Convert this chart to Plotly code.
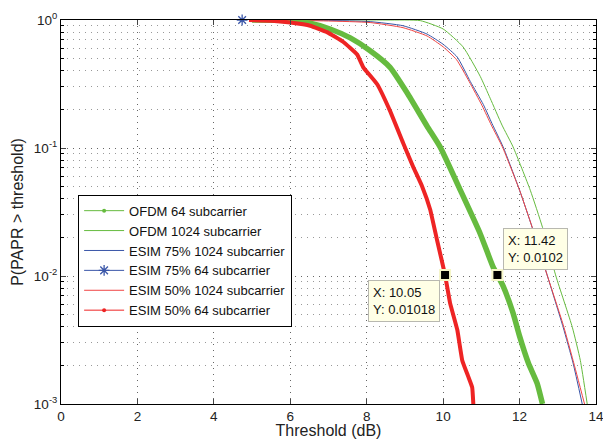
import math
import plotly.graph_objects as go

# CCDF of PAPR: threshold (dB) vs P(PAPR > threshold)
ofdm64_x = [5.0, 5.6, 6.0, 6.52, 7.04, 7.57, 8.09, 8.61, 9.06, 9.58, 9.92, 10.45, 10.97, 11.31, 11.42, 11.57, 11.83, 12.0, 12.23, 12.46, 12.6]
ofdm64_y = [1.0, 0.995, 0.989, 0.944, 0.851, 0.724, 0.575, 0.427, 0.269, 0.148, 0.102, 0.0468, 0.0214, 0.0117, 0.0102, 0.00832, 0.00513, 0.00339, 0.00209, 0.00145, 0.001]

ofdm1024_x = [6.0, 8.53, 9.4, 10.0, 10.52, 10.97, 11.23, 11.54, 11.83, 12.28, 12.6, 12.95, 13.38, 13.59, 13.77]
ofdm1024_y = [1.0, 1.0, 0.989, 0.851, 0.617, 0.363, 0.245, 0.151, 0.102, 0.0468, 0.024, 0.01, 0.00398, 0.00219, 0.001]

esim75_1024_x = [6.0, 7.0, 8.09, 8.95, 9.58, 10.0, 10.37, 10.71, 11.05, 11.28, 11.57, 12.0, 12.33, 12.72, 13.14, 13.4, 13.64]
esim75_1024_y = [1.0, 0.993, 0.971, 0.902, 0.776, 0.646, 0.513, 0.331, 0.219, 0.155, 0.102, 0.0468, 0.024, 0.0102, 0.00398, 0.00209, 0.001]

esim75_64_x = [4.74]
esim75_64_y = [1.0]

esim50_1024_x = [6.0, 7.0, 8.09, 8.95, 9.58, 10.0, 10.35, 10.68, 11.02, 11.26, 11.55, 12.0, 12.33, 12.72, 13.14, 13.4, 13.7]
esim50_1024_y = [0.995, 0.982, 0.955, 0.871, 0.750, 0.617, 0.490, 0.331, 0.214, 0.151, 0.102, 0.0468, 0.024, 0.0102, 0.00417, 0.00219, 0.001]

esim50_64_x = [4.92, 5.5, 6.0, 6.52, 6.96, 7.38, 7.75, 7.91, 8.27, 8.61, 8.95, 9.22, 9.45, 9.66, 9.84, 10.05, 10.18, 10.37, 10.5, 10.65, 10.76, 10.79]
esim50_64_y = [1.0, 0.9886, 0.955, 0.902, 0.804, 0.676, 0.537, 0.427, 0.316, 0.195, 0.110, 0.0708, 0.0501, 0.0331, 0.0191, 0.01018, 0.00617, 0.0038, 0.00219, 0.00166, 0.00135, 0.001]

tip_x = [10.05, 11.42]
tip_y = [0.01018, 0.0102]
tip_text = ["X: 10.05<br>Y: 0.01018", "X: 11.42<br>Y: 0.0102"]

x_ticks = [0, 2, 4, 6, 8, 10, 12, 14]
y_ticks = [1, 0.1, 0.01, 0.001]
y_ticktext = ["10<sup>0</sup>", "10<sup>-1</sup>", "10<sup>-2</sup>", "10<sup>-3</sup>"]
y_minor = [m * 10.0 ** e for e in (-3, -2, -1) for m in range(2, 10)]

GREEN = "#66bb3f"
BLUE = "#3a56a8"
RED = "#ee2424"
RED_LIGHT = "#f04444"
FONT = "Liberation Sans, Arial, sans-serif"

fig = go.Figure()


def curve(x, y, color, width, smoothing=0.5):
    fig.add_trace(go.Scatter(x=x, y=y, mode="lines", showlegend=False,
                             line=dict(color=color, width=width, shape="spline",
                                       smoothing=smoothing),
                             hoverinfo="skip"))


def legend_entry(name, color, rank, marker=None):
    fig.add_trace(go.Scatter(x=[None], y=[None], name=name,
                             mode="lines+markers" if marker else "lines",
                             line=dict(color=color, width=1),
                             marker=marker, legendrank=rank))


# thin curves first, thick curves drawn on top
curve(ofdm1024_x, ofdm1024_y, GREEN, 1)
curve(esim75_1024_x, esim75_1024_y, BLUE, 1)
curve(esim50_1024_x, esim50_1024_y, RED_LIGHT, 1)
curve(ofdm64_x, ofdm64_y, GREEN, 5.5)
curve(esim50_64_x, esim50_64_y, RED, 4, smoothing=0.3)

star = dict(symbol="asterisk-open", size=9, color=BLUE,
            line=dict(color=BLUE, width=1.3))
fig.add_trace(go.Scatter(x=esim75_64_x, y=esim75_64_y, mode="markers",
                         showlegend=False, cliponaxis=False, marker=star))

legend_entry("OFDM 64 subcarrier", GREEN, 1, dict(size=4, color=GREEN))
legend_entry("OFDM 1024 subcarrier", GREEN, 2)
legend_entry("ESIM 75% 1024 subcarrier", BLUE, 3)
legend_entry("ESIM 75% 64 subcarrier", BLUE, 4, star)
legend_entry("ESIM 50% 1024 subcarrier", RED_LIGHT, 5)
legend_entry("ESIM 50% 64 subcarrier", RED, 6, dict(size=4, color=RED))

# data tips
fig.add_trace(go.Scatter(x=tip_x, y=tip_y, mode="markers", showlegend=False,
                         marker=dict(symbol="square", size=10, color="black",
                                     line=dict(color="#f5f5c8", width=2))))

tip_place = [dict(xanchor="right", yanchor="top", xshift=-5, yshift=-5),
             dict(xanchor="left", yanchor="bottom", xshift=6, yshift=5)]
for tx, ty, tt, pl in zip(tip_x, tip_y, tip_text, tip_place):
    fig.add_annotation(x=tx, y=math.log10(ty), xref="x", yref="y", text=tt,
                       showarrow=False, align="left",
                       bgcolor="#ffffe6", bordercolor="#b8b8b0", borderwidth=1,
                       borderpad=4, font=dict(size=13, color="#111", family=FONT),
                       **pl)

fig.update_layout(
    width=603, height=439,
    margin=dict(l=61, r=7, t=20, b=35),
    paper_bgcolor="white", plot_bgcolor="white",
    font=dict(family=FONT, size=13.5, color="#222"),
    legend=dict(x=0.032, y=0.545, xanchor="left", yanchor="top",
                bgcolor="white", bordercolor="black", borderwidth=1,
                font=dict(size=13, color="#111"), tracegroupgap=0,
                itemwidth=40),
)

fig.update_xaxes(range=[0, 14], tickvals=x_ticks, ticks="inside", ticklen=5,
                 showline=True, linecolor="black", linewidth=1, mirror="ticks",
                 showgrid=True, gridcolor="#666", griddash="1px,5px", gridwidth=1,
                 zeroline=False, automargin=False, ticklabeloverflow="allow",
                 ticklabelstandoff=0,
                 title=dict(text="Threshold (dB)", standoff=3))

fig.update_yaxes(type="log", range=[-3, 0], tickvals=y_ticks, ticktext=y_ticktext,
                 ticks="inside", ticklen=5,
                 showline=True, linecolor="black", linewidth=1, mirror="ticks",
                 showgrid=True, gridcolor="#666", griddash="1px,5px", gridwidth=1,
                 minor=dict(tickvals=y_minor, ticks="inside", ticklen=3,
                            showgrid=True, gridcolor="#999", griddash="1px,5px",
                            gridwidth=1, tickcolor="black"),
                 zeroline=False, automargin=False, ticklabeloverflow="allow",
                 title=dict(text="P(PAPR > threshold)", standoff=6))

fig.write_html("out.html")
